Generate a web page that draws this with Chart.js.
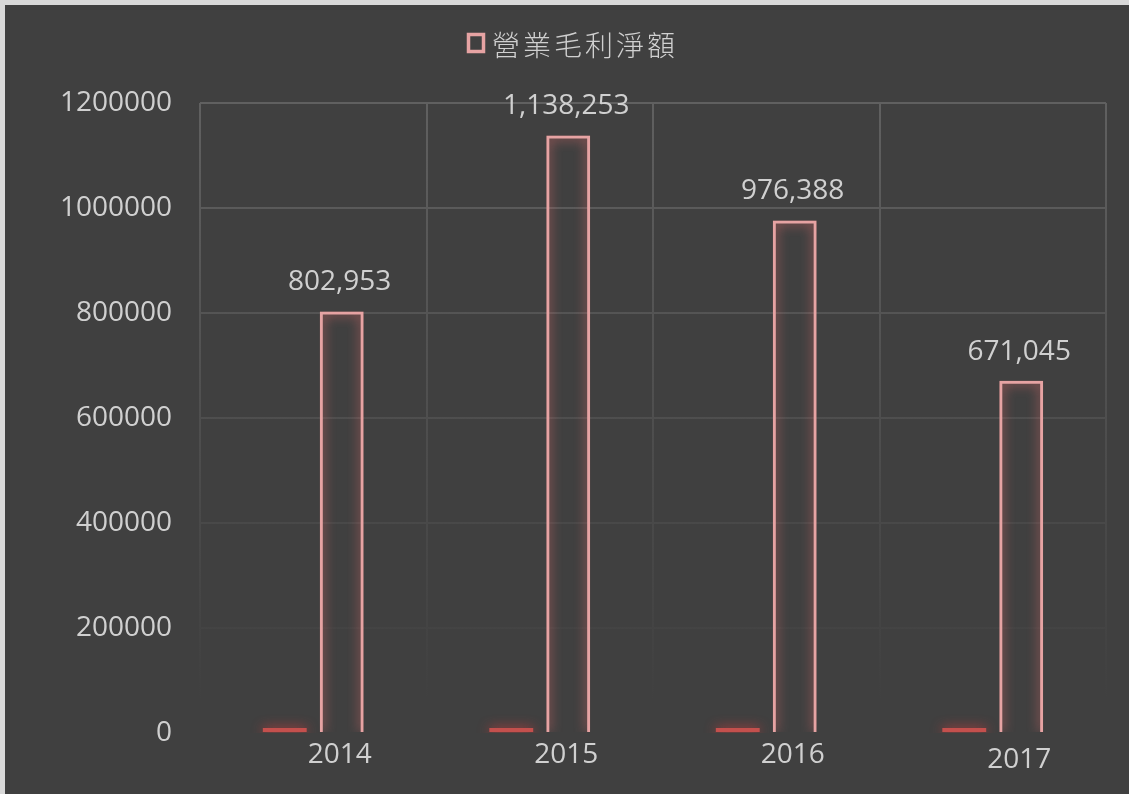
<!DOCTYPE html>
<html>
<head>
<meta charset="utf-8">
<script src="https://cdn.jsdelivr.net/npm/chart.js@4/dist/chart.umd.min.js"></script>
<style>
  html, body { margin: 0; padding: 0; background: #d9d9d9; }
  #wrap { position: absolute; left: 5px; top: 5px; width: 1124px; height: 789px; background: #404040; }
  canvas { display: block; }
</style>
</head>
<body>
<div id="wrap"><canvas id="c" width="1124" height="789"></canvas></div>
<script>
// ---- data ----
const categories = ['2014', '2015', '2016', '2017'];
const yearSeries = [2014, 2015, 2016, 2017];
const grossProfit = [802953, 1138253, 976388, 671045];
const grossProfitLabel = '營業毛利淨額';
const yearSeriesLabel = '年度';
const yMax = 1200000;
const yStep = 200000;

const TEXT = '#d0d0d0';
const PINK = '#e6a3a3';
const RED = '#c4504d';
const FONT = "'Open Sans', 'Noto Sans', sans-serif";

function gridGradient(ctx) {
  const chart = ctx.chart;
  const a = chart.chartArea;
  if (!a) return '#5c5c5c';
  const g = chart.ctx.createLinearGradient(0, a.top, 0, a.bottom);
  g.addColorStop(0, '#606060');
  g.addColorStop(0.6, '#4b4b4b');
  g.addColorStop(0.95, '#404040');
  g.addColorStop(1, '#404040');
  return g;
}

const glowPlugin = {
  id: 'glow',
  beforeDatasetDraw(chart, args) {
    const ctx = chart.ctx;
    ctx.save();
    ctx.shadowColor = args.index === 1 ? 'rgba(235,110,110,0.95)' : 'rgba(230,60,60,0.95)';
    ctx.shadowBlur = 12;
  },
  afterDatasetDraw(chart) {
    chart.ctx.restore();
  }
};

const labelPlugin = {
  id: 'labels',
  afterDatasetsDraw(chart) {
    const ctx = chart.ctx;
    const metaPink = chart.getDatasetMeta(1);
    const yScale = chart.scales.y;
    ctx.save();
    ctx.font = '28px ' + FONT;
    ctx.fillStyle = TEXT;
    ctx.textAlign = 'center';
    ctx.textBaseline = 'middle';
    metaPink.data.forEach((bar, i) => {
      const v = chart.data.datasets[1].data[i];
      ctx.fillText(v.toLocaleString('en-US'), bar.x - 2, bar.y - 29);
      const yv = chart.data.datasets[0].data[i];
      ctx.fillText(String(yv), bar.x - 2, yScale.getPixelForValue(0) + 22 + (i === 3 ? 5 : 0));
    });
    ctx.restore();
  }
};

const legendPlugin = {
  id: 'customLegend',
  afterDraw(chart) {
    const ctx = chart.ctx;
    const ds = chart.data.datasets[1];
    ctx.save();
    ctx.strokeStyle = ds.borderColor;
    ctx.lineWidth = 3.5;
    ctx.strokeRect(463.5, 29.5, 15, 17);
    ctx.font = "300 28px 'Noto Sans CJK TC', sans-serif";
    ctx.fillStyle = TEXT;
    ctx.textBaseline = 'middle';
    ctx.textAlign = 'left';
    if ('letterSpacing' in ctx) ctx.letterSpacing = '3px';
    ctx.fillText(ds.label, 487, 40);
    ctx.restore();
  }
};

new Chart(document.getElementById('c'), {
  type: 'bar',
  data: {
    labels: categories,
    datasets: [
      {
        label: yearSeriesLabel,
        data: yearSeries,
        backgroundColor: RED,
        borderWidth: 0,
        minBarLength: 5,
        barPercentage: 0.77,
        categoryPercentage: 0.503
      },
      {
        label: grossProfitLabel,
        data: grossProfit,
        backgroundColor: 'rgba(0,0,0,0)',
        borderColor: PINK,
        borderWidth: 3,
        barPercentage: 0.77,
        categoryPercentage: 0.503
      }
    ]
  },
  options: {
    responsive: false,
    animation: false,
    devicePixelRatio: 1,
    layout: { padding: { top: 98, right: 23, bottom: 61, left: 0 } },
    plugins: {
      legend: { display: false },
      tooltip: { enabled: false },
      title: { display: false }
    },
    scales: {
      x: {
        grid: { display: true, color: gridGradient, lineWidth: 2, drawTicks: false, offset: true },
        border: { display: false },
        ticks: { display: false },
        afterFit(scale) { scale.height = 0; }
      },
      y: {
        min: 0,
        max: yMax,
        grid: { color: gridGradient, lineWidth: 2, drawTicks: false },
        border: { display: false },
        ticks: {
          stepSize: yStep,
          padding: 28,
          color: TEXT,
          font: { family: FONT, size: 28 },
          callback: (v) => String(v)
        },
        afterFit(scale) { scale.width = 195; }
      }
    }
  },
  plugins: [glowPlugin, labelPlugin, legendPlugin]
});
</script>
</body>
</html>
